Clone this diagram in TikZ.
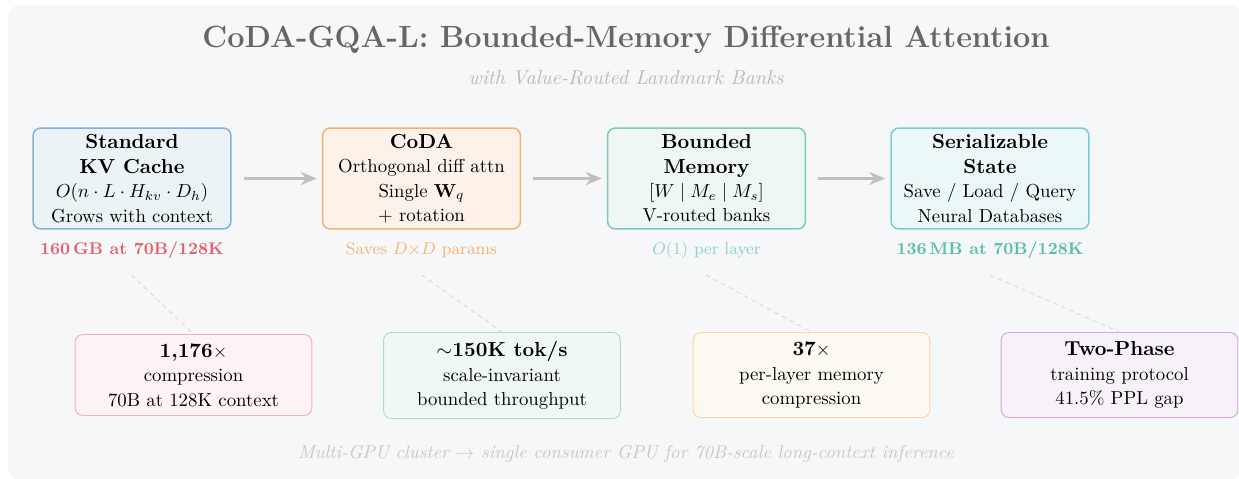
\documentclass[tikz,border=0pt]{standalone}
\usepackage{amsmath}
\usetikzlibrary{arrows.meta}

\definecolor{panelbg}{HTML}{F6F7F9}
\definecolor{titlegray}{HTML}{666666}
\definecolor{subgray}{HTML}{BBBBBB}
\definecolor{footgray}{HTML}{C8C8C8}
\definecolor{flowgray}{HTML}{C0C0C0}
\definecolor{linkgray}{HTML}{DADADA}
% stage boxes
\definecolor{kvline}{HTML}{80B4D0}\definecolor{kvfill}{HTML}{EBF3F7}
\definecolor{codaline}{HTML}{F5B26E}\definecolor{codafill}{HTML}{FCF2EA}
\definecolor{bmline}{HTML}{7DCAB5}\definecolor{bmfill}{HTML}{EEF7F5}
\definecolor{ssline}{HTML}{7CCBD4}\definecolor{ssfill}{HTML}{ECF7F9}
% stage captions
\definecolor{capred}{HTML}{E2636F}
\definecolor{caporange}{HTML}{F5B272}
\definecolor{capteal}{HTML}{8ED3C2}
\definecolor{capteald}{HTML}{5CBDA6}
% result cards
\definecolor{rline}{HTML}{F0B0B8}\definecolor{rfill}{HTML}{FDF3F5}
\definecolor{gline}{HTML}{AADDCB}\definecolor{gfill}{HTML}{F0F8F6}
\definecolor{oline}{HTML}{FAD6AA}\definecolor{ofill}{HTML}{FEF8F2}
\definecolor{pline}{HTML}{D2AAD9}\definecolor{pfill}{HTML}{F7F2F9}

\newcommand{\stagehead}{\fontsize{10.8}{13}\selectfont\bfseries}

\tikzset{
  stagebox/.style={draw, rounded corners=4.2pt, line width=0.8pt,
    minimum width=105.3pt, minimum height=53.7pt, inner sep=0pt,
    align=center, font=\fontsize{10}{13}\selectfont},
  card/.style={draw, rounded corners=4.2pt, line width=0.5pt,
    minimum width=126pt, inner sep=0pt,
    align=center, font=\fontsize{10}{13}\selectfont},
  caption/.style={font=\fontsize{9}{11}\selectfont},
  flow/.style={-{Stealth[length=8.5pt,width=7pt]}, line width=1.3pt,
    draw=flowgray, shorten <=6.4pt, shorten >=2.7pt},
  link/.style={draw=linkgray, line width=0.5pt, dash pattern=on 2.4pt off 2.2pt}
}

\begin{document}
\begin{tikzpicture}[x=0.532pt, y=-0.532pt]
  \useasboundingbox (0,0) rectangle (1239,479);
  \fill[panelbg, rounded corners=6.4pt] (8,5) rectangle (1242,480);

  % heading
  \node[font=\fontsize{16.3}{20}\selectfont\bfseries, text=titlegray] (title) at (626,40)
    {CoDA-GQA-L: Bounded-Memory Differential Attention};
  \node[font=\fontsize{10.7}{12}\selectfont\itshape, text=subgray] (subtitle) at (626,78)
    {with Value-Routed Landmark Banks};

  % pipeline stages
  \node[stagebox, draw=kvline, fill=kvfill] (kv) at (132,178.5)
    {{\stagehead Standard}\\{\stagehead KV Cache}\\$O(n\cdot L\cdot H_{kv}\cdot D_h)$\\Grows with context};
  \node[stagebox, draw=codaline, fill=codafill] (coda) at (421.5,178.5)
    {{\stagehead CoDA}\\Orthogonal diff attn\\Single $\mathbf{W}_q$\\$+$ rotation};
  \node[stagebox, draw=bmline, fill=bmfill] (bm) at (706.5,178.5)
    {{\stagehead Bounded}\\{\stagehead Memory}\\$[W \mid M_e \mid M_s]$\\V-routed banks};
  \node[stagebox, draw=ssline, fill=ssfill] (ss) at (990,178.5)
    {{\stagehead Serializable}\\{\stagehead State}\\Save / Load / Query\\Neural Databases};

  \draw[flow] (kv) -- (coda);
  \draw[flow] (coda) -- (bm);
  \draw[flow] (bm) -- (ss);

  % stage captions
  \node[caption, text=capred, font=\fontsize{9}{11}\selectfont\bfseries] (kvcap) at (132,250)
    {160\,GB at 70B/128K};
  \node[caption, text=caporange] (codacap) at (421.5,250) {Saves $D{\times}D$ params};
  \node[caption, text=capteal] (bmcap) at (706.5,250) {$O(1)$ per layer};
  \node[caption, text=capteald, font=\fontsize{9}{11}\selectfont\bfseries] (sscap) at (990,250)
    {136\,MB at 70B/128K};

  % result cards
  \node[card, draw=rline, fill=rfill, minimum height=43.1pt] (r1) at (193.5,375)
    {{\stagehead 1,176}$\times$\\compression\\70B at 128K context};
  \node[card, draw=gline, fill=gfill, minimum height=45.8pt] (r2) at (502,375.5)
    {{\stagehead $\sim$150K tok/s}\\scale-invariant\\bounded throughput};
  \node[card, draw=oline, fill=ofill, minimum height=45.2pt] (r3) at (811.5,375)
    {{\stagehead 37}$\times$\\per-layer memory\\compression};
  \node[card, draw=pline, fill=pfill, minimum height=45.2pt] (r4) at (1119.5,375)
    {{\stagehead Two-Phase}\\training protocol\\41.5\% PPL gap};

  % dashed leaders from captions to cards
  \coordinate (l1) at (131.5,275);
  \coordinate (l2) at (421.5,275);
  \coordinate (l3) at (706,275);
  \coordinate (l4) at (990,275);
  \draw[link] (l1) -- (r1.north);
  \draw[link] (l2) -- (r2.north);
  \draw[link] (l3) -- (r3.north);
  \draw[link] (l4) -- (r4.north);

  % footer
  \node[font=\fontsize{9.9}{12}\selectfont\itshape, text=footgray] (footer) at (626,454)
    {Multi-GPU cluster $\rightarrow$ single consumer GPU for 70B-scale long-context inference};
\end{tikzpicture}
\end{document}
